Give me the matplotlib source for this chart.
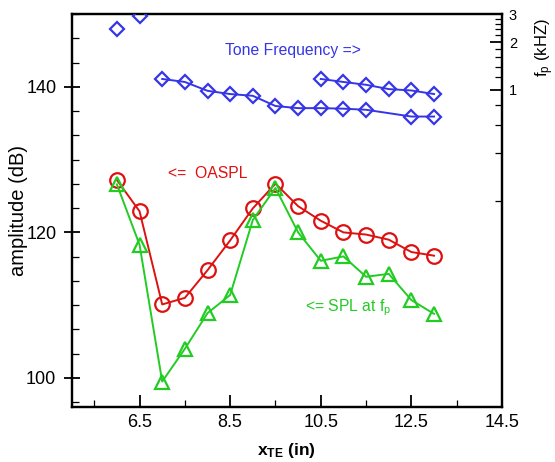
import numpy as np
import matplotlib
matplotlib.use("Agg")
import matplotlib.pyplot as plt
from matplotlib.ticker import FixedLocator, MultipleLocator, AutoMinorLocator, NullFormatter, FixedFormatter

plt.rcParams['font.family'] = ['Liberation Sans', 'DejaVu Sans']
plt.rcParams['mathtext.fontset'] = 'custom'
plt.rcParams['mathtext.rm'] = 'Liberation Sans'
plt.rcParams['mathtext.it'] = 'Liberation Sans:italic'
plt.rcParams['mathtext.bf'] = 'Liberation Sans:bold'

# ---- data ----
x_all = [6.0, 6.5, 7.0, 7.5, 8.0, 8.5, 9.0, 9.5, 10.0, 10.5, 11.0, 11.5, 12.0, 12.5, 13.0]
oaspl = [127.2, 122.9, 110.1, 111.0, 114.8, 118.9, 123.3, 126.7, 123.6, 121.6, 120.0, 119.7, 119.0, 117.3, 116.8]
spl_fp = [126.6, 118.3, 99.5, 104.0, 108.9, 111.4, 121.7, 126.1, 120.0, 116.1, 116.7, 113.9, 114.3, 110.7, 108.8]

x_tone0 = [6.0, 6.5]
f_tone0 = [2.43, 2.90]
x_tone1 = [7.0, 7.5, 8.0, 8.5, 9.0, 9.5, 10.0, 10.5, 11.0, 11.5, 12.5, 13.0]
f_tone1 = [1.17, 1.12, 0.985, 0.94, 0.916, 0.79, 0.766, 0.766, 0.76, 0.748, 0.678, 0.678]
x_tone2 = [10.5, 11.0, 11.5, 12.0, 12.5, 13.0]
f_tone2 = [1.17, 1.12, 1.075, 1.01, 0.99, 0.94]

x_major = [6.5, 8.5, 10.5, 12.5, 14.5]
x_minor = [5.5, 7.5, 9.5, 11.5, 13.5]
f_major = [1, 2, 3]
f_minor = [0.2, 0.4, 0.6, 0.8, 1.2, 1.4, 1.6, 1.8, 2.2, 2.4, 2.6, 2.8]

RED = '#dd1111'
GREEN = '#22cc22'
BLUE = '#3535e8'

fig = plt.figure(figsize=(5.55, 4.62), dpi=100)
ax = fig.add_axes([0.129, 0.119, 0.7755, 0.8505])

ax.plot(x_all, oaspl, color=RED, lw=1.4, marker='o', ms=10.5, mfc='none', mec=RED, mew=1.6, zorder=3)
ax.plot(x_all, spl_fp, color=GREEN, lw=1.4, marker='^', ms=10, mfc='none', mec=GREEN, mew=1.6, zorder=3)

ax.set_xlim(5, 14.5)
ax.set_ylim(96, 150)
ax.xaxis.set_major_locator(FixedLocator(x_major))
ax.xaxis.set_minor_locator(FixedLocator(x_minor))
ax.xaxis.set_major_formatter(FixedFormatter([str(v) for v in x_major]))
ax.yaxis.set_major_locator(MultipleLocator(20))
ax.yaxis.set_minor_locator(AutoMinorLocator(6))

ax.tick_params(axis='both', which='major', direction='in', length=9, width=1.3, labelsize=13, pad=5)
ax.tick_params(axis='both', which='minor', direction='in', length=5, width=0.9)
ax.tick_params(axis='y', which='major', direction='inout', length=12)
ax.tick_params(top=False, right=False, which='both')
for s in ax.spines.values():
    s.set_linewidth(1.6)

ax.set_ylabel('amplitude (dB)', fontsize=14.5)
ax.yaxis.set_label_coords(-0.102, 0.5)
ax.set_xlabel(r'$\mathbf{x}_\mathbf{TE}$ (in)', fontsize=12.5, fontweight='bold')
ax.xaxis.set_label_coords(0.5, -0.086)

ax2 = ax.twinx()
ax2.set_yscale('log')
ax2.set_ylim(0.01, 3)
ax2.plot(x_tone0, f_tone0, ls='none', marker='D', ms=7, mfc='none', mec=BLUE, mew=1.6, zorder=3)
ax2.plot(x_tone1, f_tone1, color=BLUE, lw=1.4, marker='D', ms=7, mfc='none', mec=BLUE, mew=1.6, zorder=3)
ax2.plot(x_tone2, f_tone2, color=BLUE, lw=1.4, marker='D', ms=7, mfc='none', mec=BLUE, mew=1.6, zorder=3)
ax2.yaxis.set_major_locator(FixedLocator(f_major))
ax2.yaxis.set_major_formatter(FixedFormatter([str(v) for v in f_major]))
ax2.yaxis.set_minor_locator(FixedLocator(f_minor))
ax2.yaxis.set_minor_formatter(NullFormatter())
ax2.tick_params(axis='y', which='major', direction='in', length=9, width=1.3, labelsize=10.5, pad=5)
ax2.tick_params(axis='y', which='minor', direction='in', length=5, width=0.9)
for s in ax2.spines.values():
    s.set_linewidth(1.6)

fig.text(533 / 555, 1 - 48 / 462, r'f$_\mathrm{p}$ (kHZ)', rotation=90, fontsize=12,
         ha='left', va='center')

ax.text(8.39, 145.0, 'Tone Frequency =>', color=BLUE, fontsize=11.3, ha='left', va='center')
ax.text(7.13, 128.1, '<=  OASPL', color=RED, fontsize=11.3, ha='left', va='center')
ax.text(10.15, 109.6, r'<= SPL at f$_\mathrm{p}$', color=GREEN, fontsize=11.3, ha='left', va='center')

fig.savefig('out.png', dpi=100)
